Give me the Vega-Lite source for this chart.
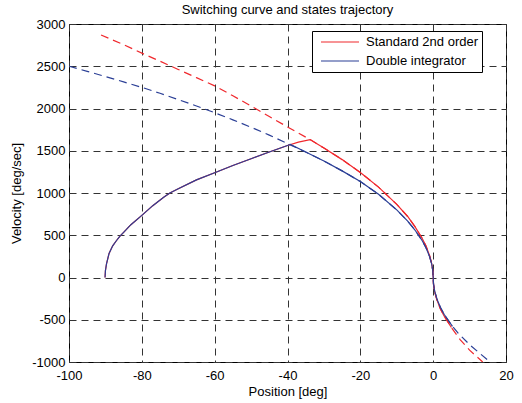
{
  "$schema": "https://vega.github.io/schema/vega-lite/v6.json",
  "width": 437,
  "height": 338,
  "autosize": {"type": "none"},
  "padding": {"left": 69, "top": 24, "right": 16, "bottom": 41},
  "background": "white",
  "config": {
    "font": "Liberation Sans",
    "view": {"stroke": "black", "strokeWidth": 1},
    "axis": {
      "domain": false,
      "ticks": false,
      "grid": true,
      "gridColor": "#333",
      "gridDash": [7, 5],
      "gridOpacity": 1,
      "gridWidth": 1,
      "labelFlush": false,
      "labelOverlap": false,
      "labelExpr": "'' + datum.value",
      "labelFont": "Liberation Sans",
      "labelFontSize": 13,
      "labelColor": "black",
      "titleFont": "Liberation Sans",
      "titleFontSize": 13,
      "titleFontWeight": "normal",
      "titleColor": "black"
    },
    "title": {"font": "Liberation Sans", "fontSize": 13, "fontWeight": "normal", "color": "black"}
  },
  "title": {"text": "Switching curve and states trajectory", "anchor": "middle", "offset": 1},
  "datasets": {
    "curves": [
      {"series": "Double integrator", "kind": "switch", "i": 1, "x": -100, "v": 2500},
      {"series": "Double integrator", "kind": "switch", "i": 2, "x": -95, "v": 2440},
      {"series": "Double integrator", "kind": "switch", "i": 3, "x": -90, "v": 2378},
      {"series": "Double integrator", "kind": "switch", "i": 4, "x": -85, "v": 2315},
      {"series": "Double integrator", "kind": "switch", "i": 5, "x": -80, "v": 2250},
      {"series": "Double integrator", "kind": "switch", "i": 6, "x": -75, "v": 2180},
      {"series": "Double integrator", "kind": "switch", "i": 7, "x": -70, "v": 2105},
      {"series": "Double integrator", "kind": "switch", "i": 8, "x": -65, "v": 2030},
      {"series": "Double integrator", "kind": "switch", "i": 9, "x": -60, "v": 1950},
      {"series": "Double integrator", "kind": "switch", "i": 10, "x": -55, "v": 1866},
      {"series": "Double integrator", "kind": "switch", "i": 11, "x": -50, "v": 1778},
      {"series": "Double integrator", "kind": "switch", "i": 12, "x": -45, "v": 1685},
      {"series": "Double integrator", "kind": "switch", "i": 13, "x": -40, "v": 1585},
      {"series": "Double integrator", "kind": "switch", "i": 14, "x": -35, "v": 1485},
      {"series": "Double integrator", "kind": "switch", "i": 15, "x": -30, "v": 1378},
      {"series": "Double integrator", "kind": "switch", "i": 16, "x": -25, "v": 1262},
      {"series": "Double integrator", "kind": "switch", "i": 17, "x": -20, "v": 1135},
      {"series": "Double integrator", "kind": "switch", "i": 18, "x": -15, "v": 985},
      {"series": "Double integrator", "kind": "switch", "i": 19, "x": -10, "v": 800},
      {"series": "Double integrator", "kind": "switch", "i": 20, "x": -7, "v": 668},
      {"series": "Double integrator", "kind": "switch", "i": 21, "x": -5, "v": 562},
      {"series": "Double integrator", "kind": "switch", "i": 22, "x": -3, "v": 435},
      {"series": "Double integrator", "kind": "switch", "i": 23, "x": -2, "v": 355},
      {"series": "Double integrator", "kind": "switch", "i": 24, "x": -1, "v": 250},
      {"series": "Double integrator", "kind": "switch", "i": 25, "x": -0.4, "v": 158},
      {"series": "Double integrator", "kind": "switch", "i": 26, "x": -0.1, "v": 80},
      {"series": "Double integrator", "kind": "switch", "i": 27, "x": 0, "v": 0},
      {"series": "Double integrator", "kind": "switch", "i": 28, "x": 0.1, "v": -80},
      {"series": "Double integrator", "kind": "switch", "i": 29, "x": 0.4, "v": -158},
      {"series": "Double integrator", "kind": "switch", "i": 30, "x": 1, "v": -250},
      {"series": "Double integrator", "kind": "switch", "i": 31, "x": 2, "v": -355},
      {"series": "Double integrator", "kind": "switch", "i": 32, "x": 3, "v": -435},
      {"series": "Double integrator", "kind": "switch", "i": 33, "x": 5, "v": -562},
      {"series": "Double integrator", "kind": "switch", "i": 34, "x": 7, "v": -665},
      {"series": "Double integrator", "kind": "switch", "i": 35, "x": 10, "v": -795},
      {"series": "Double integrator", "kind": "switch", "i": 36, "x": 13, "v": -905},
      {"series": "Double integrator", "kind": "switch", "i": 37, "x": 15.6, "v": -1000},

      {"series": "Standard 2nd order", "kind": "switch", "i": 1, "x": -91.2, "v": 2870},
      {"series": "Standard 2nd order", "kind": "switch", "i": 2, "x": -85, "v": 2755},
      {"series": "Standard 2nd order", "kind": "switch", "i": 3, "x": -80, "v": 2655},
      {"series": "Standard 2nd order", "kind": "switch", "i": 4, "x": -75, "v": 2560},
      {"series": "Standard 2nd order", "kind": "switch", "i": 5, "x": -70, "v": 2462},
      {"series": "Standard 2nd order", "kind": "switch", "i": 6, "x": -65, "v": 2365},
      {"series": "Standard 2nd order", "kind": "switch", "i": 7, "x": -60, "v": 2268},
      {"series": "Standard 2nd order", "kind": "switch", "i": 8, "x": -55, "v": 2150},
      {"series": "Standard 2nd order", "kind": "switch", "i": 9, "x": -50, "v": 2030},
      {"series": "Standard 2nd order", "kind": "switch", "i": 10, "x": -45, "v": 1905},
      {"series": "Standard 2nd order", "kind": "switch", "i": 11, "x": -40, "v": 1782},
      {"series": "Standard 2nd order", "kind": "switch", "i": 12, "x": -33.8, "v": 1632},
      {"series": "Standard 2nd order", "kind": "switch", "i": 13, "x": -30, "v": 1532},
      {"series": "Standard 2nd order", "kind": "switch", "i": 14, "x": -25, "v": 1395},
      {"series": "Standard 2nd order", "kind": "switch", "i": 15, "x": -20, "v": 1242},
      {"series": "Standard 2nd order", "kind": "switch", "i": 16, "x": -15, "v": 1070},
      {"series": "Standard 2nd order", "kind": "switch", "i": 17, "x": -10, "v": 865},
      {"series": "Standard 2nd order", "kind": "switch", "i": 18, "x": -7, "v": 722},
      {"series": "Standard 2nd order", "kind": "switch", "i": 19, "x": -5, "v": 602},
      {"series": "Standard 2nd order", "kind": "switch", "i": 20, "x": -3, "v": 462},
      {"series": "Standard 2nd order", "kind": "switch", "i": 21, "x": -2, "v": 375},
      {"series": "Standard 2nd order", "kind": "switch", "i": 22, "x": -1, "v": 262},
      {"series": "Standard 2nd order", "kind": "switch", "i": 23, "x": -0.4, "v": 165},
      {"series": "Standard 2nd order", "kind": "switch", "i": 24, "x": -0.1, "v": 85},
      {"series": "Standard 2nd order", "kind": "switch", "i": 25, "x": 0, "v": 0},
      {"series": "Standard 2nd order", "kind": "switch", "i": 26, "x": 0.1, "v": -85},
      {"series": "Standard 2nd order", "kind": "switch", "i": 27, "x": 0.4, "v": -165},
      {"series": "Standard 2nd order", "kind": "switch", "i": 28, "x": 1, "v": -262},
      {"series": "Standard 2nd order", "kind": "switch", "i": 29, "x": 2, "v": -372},
      {"series": "Standard 2nd order", "kind": "switch", "i": 30, "x": 3, "v": -455},
      {"series": "Standard 2nd order", "kind": "switch", "i": 31, "x": 5, "v": -592},
      {"series": "Standard 2nd order", "kind": "switch", "i": 32, "x": 7.4, "v": -735},
      {"series": "Standard 2nd order", "kind": "switch", "i": 33, "x": 10, "v": -860},
      {"series": "Standard 2nd order", "kind": "switch", "i": 34, "x": 13.6, "v": -1000},

      {"series": "Standard 2nd order", "kind": "traj", "i": 1, "x": -90.1, "v": 0},
      {"series": "Standard 2nd order", "kind": "traj", "i": 2, "x": -90, "v": 80},
      {"series": "Standard 2nd order", "kind": "traj", "i": 3, "x": -89.7, "v": 160},
      {"series": "Standard 2nd order", "kind": "traj", "i": 4, "x": -89, "v": 285},
      {"series": "Standard 2nd order", "kind": "traj", "i": 5, "x": -88, "v": 375},
      {"series": "Standard 2nd order", "kind": "traj", "i": 6, "x": -87, "v": 435},
      {"series": "Standard 2nd order", "kind": "traj", "i": 7, "x": -86, "v": 490},
      {"series": "Standard 2nd order", "kind": "traj", "i": 8, "x": -85, "v": 535},
      {"series": "Standard 2nd order", "kind": "traj", "i": 9, "x": -83, "v": 625},
      {"series": "Standard 2nd order", "kind": "traj", "i": 10, "x": -80, "v": 735},
      {"series": "Standard 2nd order", "kind": "traj", "i": 11, "x": -77, "v": 850},
      {"series": "Standard 2nd order", "kind": "traj", "i": 12, "x": -74, "v": 950},
      {"series": "Standard 2nd order", "kind": "traj", "i": 13, "x": -72.3, "v": 1000},
      {"series": "Standard 2nd order", "kind": "traj", "i": 14, "x": -70, "v": 1050},
      {"series": "Standard 2nd order", "kind": "traj", "i": 15, "x": -65, "v": 1155},
      {"series": "Standard 2nd order", "kind": "traj", "i": 16, "x": -60, "v": 1240},
      {"series": "Standard 2nd order", "kind": "traj", "i": 17, "x": -55, "v": 1325},
      {"series": "Standard 2nd order", "kind": "traj", "i": 18, "x": -50, "v": 1405},
      {"series": "Standard 2nd order", "kind": "traj", "i": 19, "x": -45, "v": 1485},
      {"series": "Standard 2nd order", "kind": "traj", "i": 20, "x": -40, "v": 1562},
      {"series": "Standard 2nd order", "kind": "traj", "i": 21, "x": -37, "v": 1602},
      {"series": "Standard 2nd order", "kind": "traj", "i": 22, "x": -33.8, "v": 1632},
      {"series": "Standard 2nd order", "kind": "traj", "i": 23, "x": -30, "v": 1532},
      {"series": "Standard 2nd order", "kind": "traj", "i": 24, "x": -25, "v": 1395},
      {"series": "Standard 2nd order", "kind": "traj", "i": 25, "x": -20, "v": 1242},
      {"series": "Standard 2nd order", "kind": "traj", "i": 26, "x": -15, "v": 1070},
      {"series": "Standard 2nd order", "kind": "traj", "i": 27, "x": -10, "v": 865},
      {"series": "Standard 2nd order", "kind": "traj", "i": 28, "x": -7, "v": 722},
      {"series": "Standard 2nd order", "kind": "traj", "i": 29, "x": -5, "v": 602},
      {"series": "Standard 2nd order", "kind": "traj", "i": 30, "x": -3, "v": 462},
      {"series": "Standard 2nd order", "kind": "traj", "i": 31, "x": -2, "v": 375},
      {"series": "Standard 2nd order", "kind": "traj", "i": 32, "x": -1, "v": 262},
      {"series": "Standard 2nd order", "kind": "traj", "i": 33, "x": -0.4, "v": 165},
      {"series": "Standard 2nd order", "kind": "traj", "i": 34, "x": -0.1, "v": 85},
      {"series": "Standard 2nd order", "kind": "traj", "i": 35, "x": 0, "v": 0},
      {"series": "Standard 2nd order", "kind": "traj", "i": 36, "x": 0.1, "v": -85},
      {"series": "Standard 2nd order", "kind": "traj", "i": 37, "x": 0.4, "v": -165},
      {"series": "Standard 2nd order", "kind": "traj", "i": 38, "x": 1, "v": -262},
      {"series": "Standard 2nd order", "kind": "traj", "i": 39, "x": 2, "v": -372},
      {"series": "Standard 2nd order", "kind": "traj", "i": 40, "x": 3, "v": -455},
      {"series": "Standard 2nd order", "kind": "traj", "i": 41, "x": 5, "v": -592},

      {"series": "Double integrator", "kind": "traj", "i": 1, "x": -90.1, "v": 0},
      {"series": "Double integrator", "kind": "traj", "i": 2, "x": -90, "v": 80},
      {"series": "Double integrator", "kind": "traj", "i": 3, "x": -89.7, "v": 160},
      {"series": "Double integrator", "kind": "traj", "i": 4, "x": -89, "v": 285},
      {"series": "Double integrator", "kind": "traj", "i": 5, "x": -88, "v": 375},
      {"series": "Double integrator", "kind": "traj", "i": 6, "x": -87, "v": 435},
      {"series": "Double integrator", "kind": "traj", "i": 7, "x": -86, "v": 490},
      {"series": "Double integrator", "kind": "traj", "i": 8, "x": -85, "v": 535},
      {"series": "Double integrator", "kind": "traj", "i": 9, "x": -83, "v": 625},
      {"series": "Double integrator", "kind": "traj", "i": 10, "x": -80, "v": 735},
      {"series": "Double integrator", "kind": "traj", "i": 11, "x": -77, "v": 850},
      {"series": "Double integrator", "kind": "traj", "i": 12, "x": -74, "v": 950},
      {"series": "Double integrator", "kind": "traj", "i": 13, "x": -72.3, "v": 1000},
      {"series": "Double integrator", "kind": "traj", "i": 14, "x": -70, "v": 1050},
      {"series": "Double integrator", "kind": "traj", "i": 15, "x": -65, "v": 1155},
      {"series": "Double integrator", "kind": "traj", "i": 16, "x": -60, "v": 1240},
      {"series": "Double integrator", "kind": "traj", "i": 17, "x": -55, "v": 1325},
      {"series": "Double integrator", "kind": "traj", "i": 18, "x": -50, "v": 1405},
      {"series": "Double integrator", "kind": "traj", "i": 19, "x": -45, "v": 1485},
      {"series": "Double integrator", "kind": "traj", "i": 20, "x": -40, "v": 1562},
      {"series": "Double integrator", "kind": "traj", "i": 21, "x": -39.2, "v": 1575},
      {"series": "Double integrator", "kind": "traj", "i": 22, "x": -35, "v": 1485},
      {"series": "Double integrator", "kind": "traj", "i": 23, "x": -30, "v": 1378},
      {"series": "Double integrator", "kind": "traj", "i": 24, "x": -25, "v": 1262},
      {"series": "Double integrator", "kind": "traj", "i": 25, "x": -20, "v": 1135},
      {"series": "Double integrator", "kind": "traj", "i": 26, "x": -15, "v": 985},
      {"series": "Double integrator", "kind": "traj", "i": 27, "x": -10, "v": 800},
      {"series": "Double integrator", "kind": "traj", "i": 28, "x": -7, "v": 668},
      {"series": "Double integrator", "kind": "traj", "i": 29, "x": -5, "v": 562},
      {"series": "Double integrator", "kind": "traj", "i": 30, "x": -3, "v": 435},
      {"series": "Double integrator", "kind": "traj", "i": 31, "x": -2, "v": 355},
      {"series": "Double integrator", "kind": "traj", "i": 32, "x": -1, "v": 250},
      {"series": "Double integrator", "kind": "traj", "i": 33, "x": -0.4, "v": 158},
      {"series": "Double integrator", "kind": "traj", "i": 34, "x": -0.1, "v": 80},
      {"series": "Double integrator", "kind": "traj", "i": 35, "x": 0, "v": 0},
      {"series": "Double integrator", "kind": "traj", "i": 36, "x": 0.1, "v": -80},
      {"series": "Double integrator", "kind": "traj", "i": 37, "x": 0.4, "v": -158},
      {"series": "Double integrator", "kind": "traj", "i": 38, "x": 1, "v": -250},
      {"series": "Double integrator", "kind": "traj", "i": 39, "x": 2, "v": -355},
      {"series": "Double integrator", "kind": "traj", "i": 40, "x": 3, "v": -435},
      {"series": "Double integrator", "kind": "traj", "i": 41, "x": 5.3, "v": -578}
    ]
  },
  "data": {"name": "curves"},
  "encoding": {
    "x": {"field": "x", "type": "quantitative", "scale": {"domain": [-100, 20], "nice": false, "zero": false},
      "axis": {"values": [-100, -80, -60, -40, -20, 0, 20], "title": "Position [deg]", "labelPadding": 7, "titlePadding": 3}},
    "y": {"field": "v", "type": "quantitative", "scale": {"domain": [-1000, 3000], "nice": false, "zero": false},
      "axis": {"values": [-1000, -500, 0, 500, 1000, 1500, 2000, 2500, 3000], "title": "Velocity [deg/sec]", "labelPadding": 4, "titlePadding": 8}},
    "order": {"field": "i", "type": "quantitative"},
    "color": {"field": "series", "type": "nominal",
      "scale": {"domain": ["Standard 2nd order", "Double integrator"], "range": ["#f0282d", "#2b3f96"]},
      "legend": {"title": null, "orient": "none", "legendX": 243, "legendY": 7, "direction": "vertical",
        "strokeColor": "black", "fillColor": "white", "padding": 3, "symbolOffset": 5,
        "symbolType": "stroke", "symbolSize": 1444, "symbolStrokeWidth": 1.2, "clipHeight": 16, "rowPadding": 3,
        "labelFont": "Liberation Sans", "labelFontSize": 13, "labelOffset": 6, "labelColor": "black"}}
  },
  "layer": [
    {"transform": [{"filter": "datum.kind == 'switch' && datum.series == 'Standard 2nd order'"}],
      "mark": {"type": "line", "strokeWidth": 1.2, "strokeDash": [8, 5], "clip": true}},
    {"transform": [{"filter": "datum.kind == 'switch' && datum.series == 'Double integrator'"}],
      "mark": {"type": "line", "strokeWidth": 1.2, "strokeDash": [8, 5], "clip": true}},
    {"transform": [{"filter": "datum.kind == 'traj' && datum.series == 'Standard 2nd order'"}],
      "mark": {"type": "line", "strokeWidth": 1.2, "clip": true}},
    {"transform": [{"filter": "datum.kind == 'traj' && datum.series == 'Double integrator'"}],
      "mark": {"type": "line", "strokeWidth": 1.2, "clip": true}}
  ]
}
